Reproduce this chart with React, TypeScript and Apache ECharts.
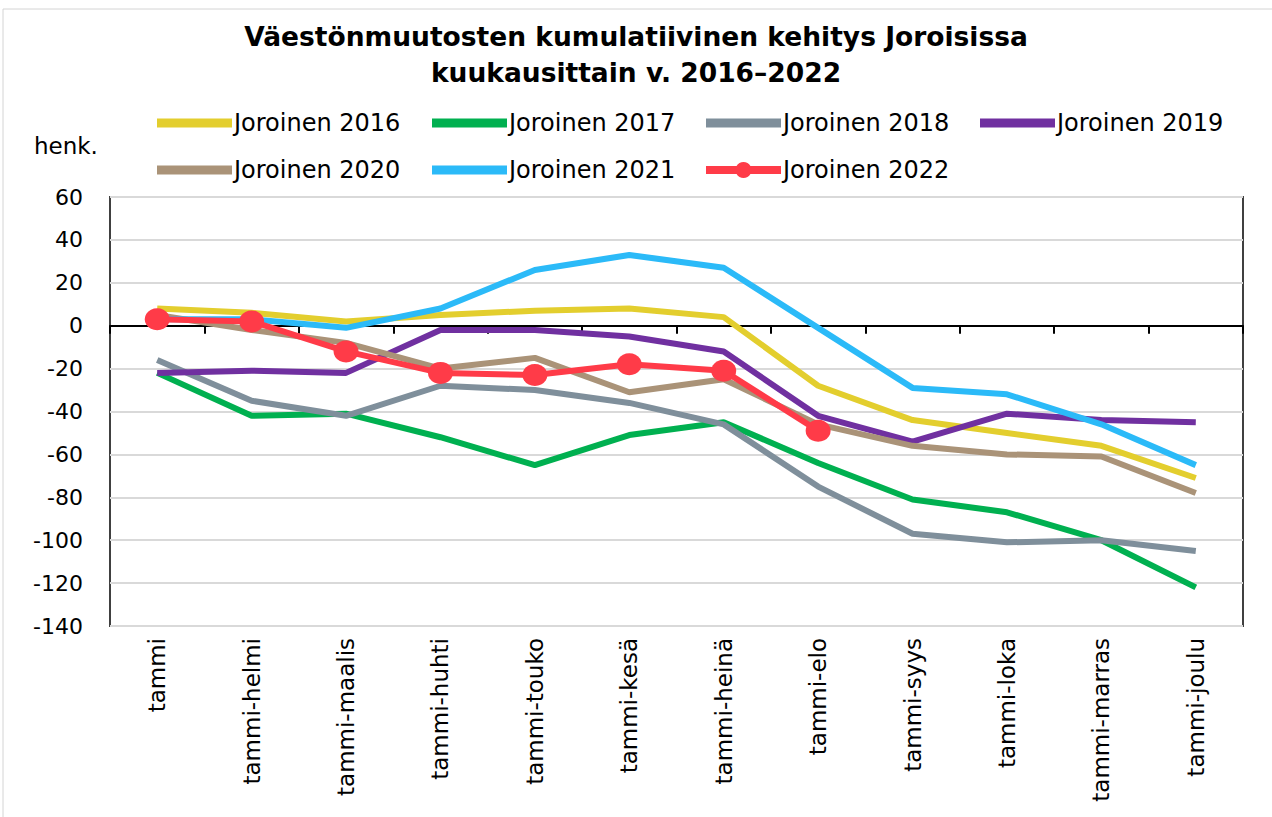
import React, { useEffect, useRef } from "react";
import * as echarts from "echarts";

const categories = ["tammi", "tammi-helmi", "tammi-maalis", "tammi-huhti", "tammi-touko", "tammi-kesä", "tammi-heinä", "tammi-elo", "tammi-syys", "tammi-loka", "tammi-marras", "tammi-joulu"];
const seriesNames = ["Joroinen 2016", "Joroinen 2017", "Joroinen 2018", "Joroinen 2019", "Joroinen 2020", "Joroinen 2021", "Joroinen 2022"];
const v2016 = [8, 6, 2, 5, 7, 8, 4, -28, -44, -50, -56, -71];
const v2017 = [-22, -42, -41, -52, -65, -51, -45, -64, -81, -87, -100, -122];
const v2018 = [-16, -35, -42, -28, -30, -36, -46, -75, -97, -101, -100, -105];
const v2019 = [-22, -21, -22, -2, -2, -5, -12, -42, -54, -41, -44, -45];
const v2020 = [5, -2, -8, -20, -15, -31, -25, -46, -56, -60, -61, -78];
const v2021 = [3, 3, -1, 8, 26, 33, 27, -1, -29, -32, -46, -65];
const v2022 = [3, 2, -12, -22, -23, -18, -21, -49];
const colors = ["#E3CE2E", "#00B050", "#7F8F9B", "#7030A0", "#AA9378", "#2BBAF8", "#FF3B48"];
const yTicks = { min: -140, max: 60, interval: 20 };

export default function App() {
  const ref = useRef<HTMLDivElement>(null);
  useEffect(() => {
    const chart = echarts.init(ref.current!, null, { renderer: "svg" });
    const data = [v2016, v2017, v2018, v2019, v2020, v2021, v2022];
    const font = "DejaVu Sans";
    const series: any[] = data.map((d, i) => ({
      name: seriesNames[i],
      type: "line",
      data: d,
      xAxisIndex: 0,
      yAxisIndex: 0,
      symbol: i === 6 ? "circle" : "none",
      symbolSize: [25, 22],
      showSymbol: i === 6,
      lineStyle: { color: colors[i], width: 6 },
      itemStyle: { color: colors[i] },
      z: 2 + i,
    }));
    const legendLefts = [157, 432, 706, 980];
    const legends = seriesNames.map((name, i) => {
      const isRed = i === 6;
      const row = i < 4 ? 0 : 1;
      const col = i < 4 ? i : i - 4;
      return {
        left: legendLefts[col] - (isRed ? 4 : 0),
        top: row === 0 ? 111 : 158,
        padding: 0,
        orient: "horizontal",
        itemWidth: 75,
        itemHeight: isRed ? 20 : 9,
        icon: isRed ? undefined : "rect",
        lineStyle: { width: 8 },
        data: [name],
        selectedMode: false,
        textStyle: { fontFamily: font, fontSize: 24, color: "#000", padding: [0, 0, 0, -3] },
      };
    });
    chart.setOption({
      animation: false,
      backgroundColor: "#fff",
      title: {
        text: "Väestönmuutosten kumulatiivinen kehitys Joroisissa\nkuukausittain v. 2016–2022",
        left: "center",
        top: 13,
        textStyle: { fontFamily: font, fontSize: 26.5, fontWeight: "bold", color: "#000", lineHeight: 36 },
      },
      legend: legends,
      graphic: [
        { type: "rect", shape: { x: 3, y: 9, width: 1300, height: 820 }, style: { fill: "none", stroke: "#d4d4d4", lineWidth: 1 }, silent: true },
        { type: "text", left: 34, top: 134, style: { text: "henk.", fontFamily: font, fontSize: 23, fill: "#000" } },
      ],
      grid: { left: 110, right: 29, top: 197, bottom: 191, show: true, borderColor: "#404040", borderWidth: 2, backgroundColor: "transparent" },
      xAxis: [
        {
          type: "category",
          data: categories,
          boundaryGap: true,
          position: "bottom",
          axisLine: { show: false, onZero: false },
          axisTick: { show: false },
          axisLabel: { rotate: 90, margin: 12, fontFamily: font, fontSize: 23, color: "#000", interval: 0 },
          splitLine: { show: false },
        },
        {
          type: "category",
          data: categories,
          boundaryGap: true,
          position: "bottom",
          axisLine: { show: true, onZero: true, onZeroAxisIndex: 0, lineStyle: { color: "#000", width: 2 } },
          axisTick: { show: true, length: 8, inside: false, interval: 0, lineStyle: { color: "#000", width: 2 } },
          axisLabel: { show: false },
          splitLine: { show: false },
        },
      ],
      yAxis: [
        {
          type: "value",
          min: yTicks.min,
          max: yTicks.max,
          interval: yTicks.interval,
          axisLine: { show: false },
          axisTick: { show: false },
          axisLabel: { margin: 27, fontFamily: font, fontSize: 22, color: "#000" },
          splitLine: { show: true, lineStyle: { color: "#d9d9d9", width: 2 } },
        },
      ],
      series,
    });
    return () => chart.dispose();
  }, []);
  return <div ref={ref} style={{ position: "fixed", left: 0, top: 0, width: 1272, height: 817 }} />;
}
